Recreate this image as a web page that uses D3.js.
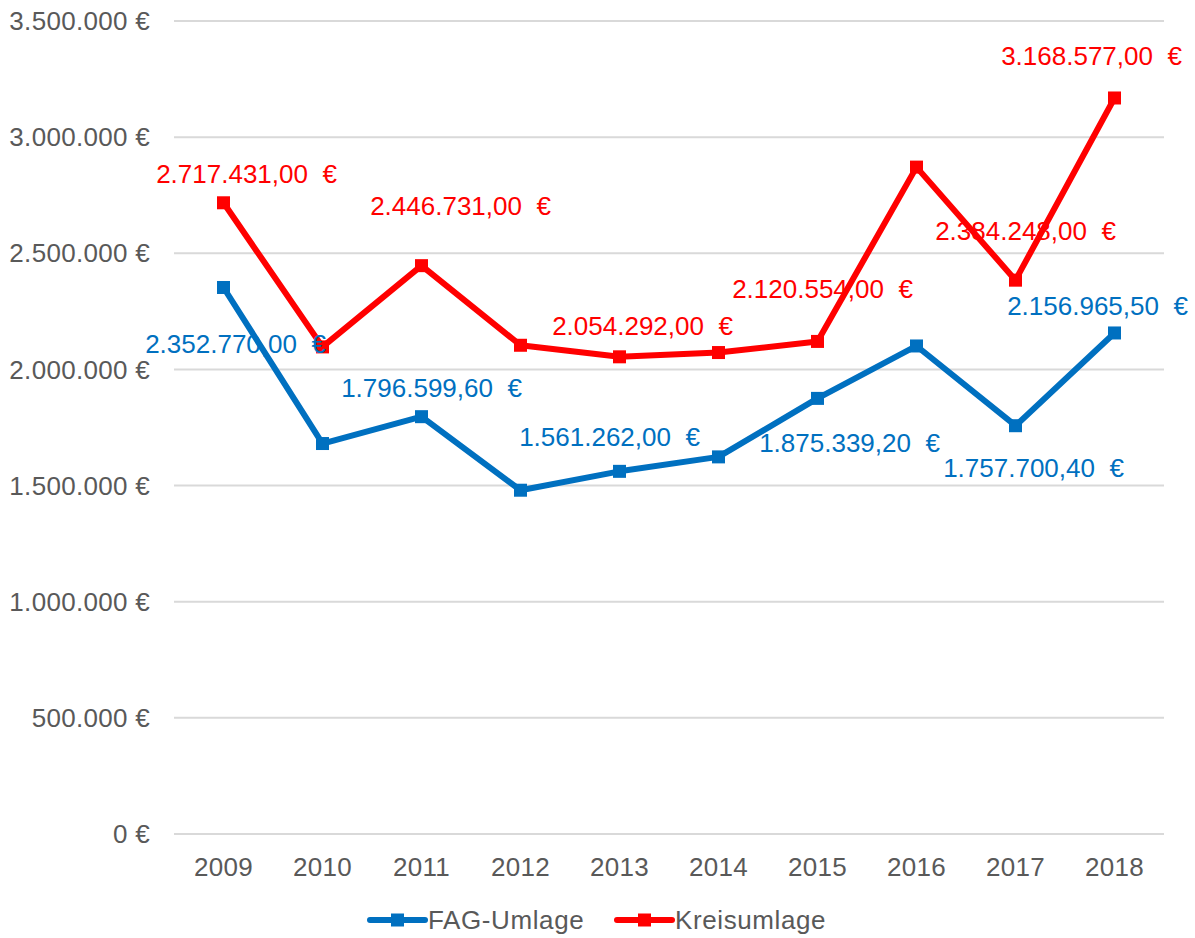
<!DOCTYPE html>
<html>
<head>
<meta charset="utf-8">
<script src="https://cdn.jsdelivr.net/npm/d3@7"></script>
<style>
  body { margin: 0; background: #fff; }
  svg { display: block; font-family: "Liberation Sans", Arial, sans-serif; }
  .tick-label { fill: #595959; font-size: 26px; letter-spacing: 0.3px; }
  .legend-label { fill: #595959; font-size: 26px; letter-spacing: 0.6px; }
  .grid line { stroke: #d9d9d9; stroke-width: 2; }
  .data-label { font-size: 26px; white-space: pre; }
</style>
</head>
<body>
<svg id="chart" width="1195" height="938"></svg>
<script>
const YEARS = ["2009", "2010", "2011", "2012", "2013", "2014", "2015", "2016", "2017", "2018"];
const FAG_UMLAGE = [2352770.0, 1681000, 1796599.6, 1480000, 1561262.0, 1623500, 1875339.2, 2101000, 1757700.4, 2156965.5];
const KREISUMLAGE = [2717431.0, 2097000, 2446731.0, 2104000, 2054292.0, 2072700, 2120554.0, 2871000, 2384248.0, 3168577.0];
// which points carry a value label (the reference only labels some of them)
const FAG_LABELED = [true, false, true, false, true, false, true, false, true, true];
const KREIS_LABELED = [true, false, true, false, true, false, true, false, true, true];
const Y_TICKS = [0, 500000, 1000000, 1500000, 2000000, 2500000, 3000000, 3500000];

// label nudges in px relative to the point (dx, baseline dy), as placed in the original
const FAG_LABEL_NUDGE = [[12, 66], null, [10, -20], null, [-10, -25], null, [32, 54], null, [18, 51], [-17, -18]];
const KREIS_LABEL_NUDGE = [[23, -20], null, [39, -51], null, [23, -22], null, [5, -43], null, [10, -40], [-23, -33]];

const series = [
  { name: "FAG-Umlage", color: "#0070c0", values: FAG_UMLAGE, labeled: FAG_LABELED, nudge: FAG_LABEL_NUDGE },
  { name: "Kreisumlage", color: "#ff0000", values: KREISUMLAGE, labeled: KREIS_LABELED, nudge: KREIS_LABEL_NUDGE }
];

const de = d3.formatLocale({ decimal: ",", thousands: ".", grouping: [3], currency: ["", " €"] });
const fmtTick = v => de.format(",.0f")(v) + " €";
const fmtValue = v => de.format(",.2f")(v) + "\u00a0\u00a0€";

const svg = d3.select("#chart");
const margin = { left: 174, right: 31, top: 21, bottom: 104 };
const width = 1195, height = 938;

const x = d3.scaleBand().domain(YEARS).range([margin.left, width - margin.right]);
const y = d3.scaleLinear().domain([0, 3500000]).range([height - margin.bottom, margin.top]);

// gridlines
svg.append("g").attr("class", "grid")
  .selectAll("line").data(Y_TICKS).join("line")
  .attr("x1", margin.left).attr("x2", width - margin.right)
  .attr("y1", d => y(d)).attr("y2", d => y(d));

// y axis labels
svg.append("g")
  .selectAll("text").data(Y_TICKS).join("text")
  .attr("class", "tick-label")
  .attr("x", 150).attr("y", d => y(d)).attr("dy", "0.35em")
  .attr("text-anchor", "end")
  .text(fmtTick);

// x axis labels
svg.append("g")
  .selectAll("text").data(YEARS).join("text")
  .attr("class", "tick-label")
  .attr("x", d => x(d) + x.bandwidth() / 2)
  .attr("y", 876)
  .attr("text-anchor", "middle")
  .text(d => d);

const line = d3.line()
  .x((d, i) => x(YEARS[i]) + x.bandwidth() / 2)
  .y(d => y(d));

series.forEach(s => {
  const g = svg.append("g");
  g.append("path")
    .datum(s.values)
    .attr("fill", "none")
    .attr("stroke", s.color)
    .attr("stroke-width", 6)
    .attr("stroke-linejoin", "round")
    .attr("d", line);

  g.selectAll("rect").data(s.values).join("rect")
    .attr("x", (d, i) => x(YEARS[i]) + x.bandwidth() / 2 - 6.5)
    .attr("y", d => y(d) - 6.5)
    .attr("width", 13).attr("height", 13)
    .attr("fill", s.color);
});

// data labels drawn last so they sit on top of the lines
series.forEach(s => {
  const pts = s.values.map((v, i) => ({ v, i })).filter(p => s.labeled[p.i]);
  svg.append("g").selectAll("text").data(pts).join("text")
    .attr("class", "data-label")
    .attr("fill", s.color)
    .attr("text-anchor", "middle")
    .attr("x", p => x(YEARS[p.i]) + x.bandwidth() / 2 + s.nudge[p.i][0])
    .attr("y", p => y(p.v) + s.nudge[p.i][1])
    .text(p => fmtValue(p.v));
});

// legend
const legend = svg.append("g").attr("transform", "translate(0, 920)");
const legendItems = [
  { s: series[0], x0: 370 },
  { s: series[1], x0: 617 }
];
legendItems.forEach(({ s, x0 }) => {
  legend.append("line")
    .attr("x1", x0).attr("x2", x0 + 55)
    .attr("y1", 0).attr("y2", 0)
    .attr("stroke", s.color).attr("stroke-width", 6)
    .attr("stroke-linecap", "round");
  legend.append("rect")
    .attr("x", x0 + 21).attr("y", -6.5)
    .attr("width", 13).attr("height", 13)
    .attr("fill", s.color);
  legend.append("text")
    .attr("class", "legend-label")
    .attr("x", x0 + 58).attr("y", 0).attr("dy", "0.35em")
    .text(s.name);
});
</script>
</body>
</html>
